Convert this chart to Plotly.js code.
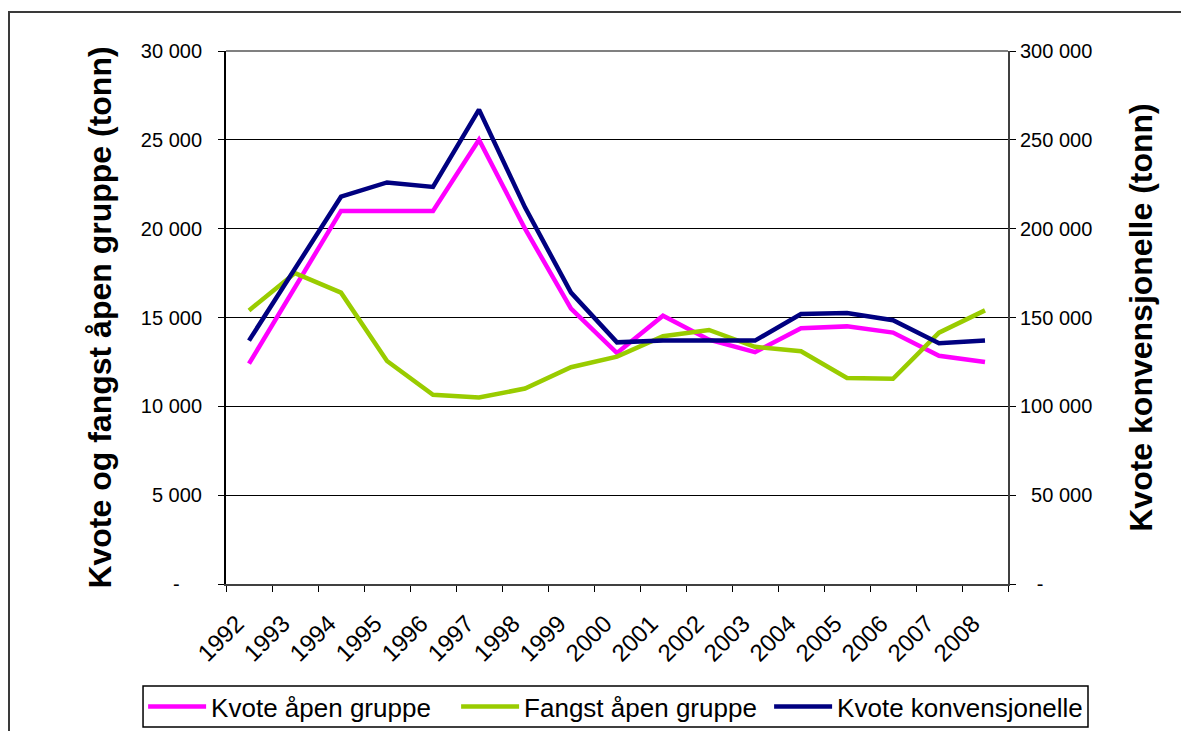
<!DOCTYPE html>
<html>
<head>
<meta charset="utf-8">
<script src="https://cdn.plot.ly/plotly-3.0.1.min.js"></script>
<style>
  html, body { margin: 0; padding: 0; overflow: hidden; background: #ffffff; }
  #frame { position: absolute; left: 8px; top: 11px; width: 1300px; height: 900px; border: 2px solid #3a3a3a; }
  #chart { position: absolute; left: 0; top: 0; width: 1181px; height: 731px; }
</style>
</head>
<body>
<div id="frame"></div>
<div id="chart"></div>
<script>
// Data
const years = ["1992","1993","1994","1995","1996","1997","1998","1999","2000","2001","2002","2003","2004","2005","2006","2007","2008"];
const kvoteApen = [12400, 16700, 21000, 21000, 21000, 25000, 20000, 15500, 13000, 15100, 13750, 13050, 14400, 14500, 14150, 12850, 12500];
const fangstApen = [15400, 17500, 16400, 12550, 10650, 10500, 11000, 12200, 12800, 13950, 14300, 13350, 13100, 11600, 11550, 14150, 15400];
const kvoteKonv = [137000, 177000, 218000, 226000, 223500, 267000, 212000, 164000, 136000, 137000, 137000, 137000, 152000, 152500, 148500, 135500, 137000];

const leftTickVals = [0, 5000, 10000, 15000, 20000, 25000, 30000];
const leftTickText = ["-\u2007\u2007", "5 000", "10 000", "15 000", "20 000", "25 000", "30 000"];
const rightTickVals = [0, 50000, 100000, 150000, 200000, 250000, 300000];
const rightTickText = ["\u2007 -", "\u200750 000", "100 000", "150 000", "200 000", "250 000", "300 000"];

const seriesNames = ["Kvote åpen gruppe", "Fangst åpen gruppe", "Kvote konvensjonelle"];
const seriesColors = ["#FF00FF", "#99CC00", "#000080"];

const font = "Liberation Sans, Arial, sans-serif";

const traces = [
  { x: years, y: kvoteApen, name: seriesNames[0], type: "scatter", mode: "lines",
    line: { color: seriesColors[0], width: 4.5 }, yaxis: "y" },
  { x: years, y: fangstApen, name: seriesNames[1], type: "scatter", mode: "lines",
    line: { color: seriesColors[1], width: 4.5 }, yaxis: "y" },
  { x: years, y: kvoteKonv, name: seriesNames[2], type: "scatter", mode: "lines",
    line: { color: seriesColors[2], width: 4.5 }, yaxis: "y2" }
];

const layout = {
  width: 1181, height: 731,
  margin: { l: 226, r: 173, t: 51, b: 147, autoexpand: false },
  paper_bgcolor: "rgba(0,0,0,0)",
  plot_bgcolor: "rgba(0,0,0,0)",
  font: { family: font, color: "#000000", size: 20 },
  showlegend: true,
  legend: {
    orientation: "h",
    x: -0.106, xanchor: "left",
    y: -0.1857, yanchor: "top",
    borderwidth: 0,
    font: { family: font, size: 26, color: "#000000" },
    bgcolor: "rgba(0,0,0,0)",
    itemwidth: 58,
    entrywidth: 240,
    tracegroupgap: 0
  },
  xaxis: {
    type: "category",
    range: [-0.5, 16.5],
    tickson: "boundaries",
    ticks: "outside", ticklen: 6, tickcolor: "#000000", tickwidth: 1,
    tickangle: -45,
    ticklabelstandoff: 14,
    ticklabelshift: -12,
    tickfont: { family: font, size: 24, color: "#000000" },
    showline: true, linecolor: "#404040", linewidth: 2,
    showgrid: false, zeroline: false, automargin: false
  },
  yaxis: {
    range: [0, 30000],
    tickvals: leftTickVals, ticktext: leftTickText,
    ticks: "outside", ticklen: 6, tickcolor: "#000000", tickwidth: 1,
    ticklabelstandoff: 12,
    tickfont: { family: font, size: 20, color: "#000000" },
    showline: true, linecolor: "#000000", linewidth: 2,
    showgrid: true, gridcolor: "#000000", gridwidth: 1,
    zeroline: false, automargin: false,
    title: { text: "Kvote og fangst åpen gruppe (tonn)", font: { family: font, size: 32, color: "#000000", weight: "bold" }, standoff: 20 }
  },
  yaxis2: {
    overlaying: "y", side: "right",
    range: [0, 300000],
    tickvals: rightTickVals, ticktext: rightTickText,
    ticks: "outside", ticklen: 6, tickcolor: "#000000", tickwidth: 1,
    tickfont: { family: font, size: 20, color: "#000000" },
    showline: true, linecolor: "#404040", linewidth: 2,
    showgrid: false, zeroline: false, automargin: false,
    title: { text: "Kvote konvensjonelle (tonn)", font: { family: font, size: 32, color: "#000000", weight: "bold" }, standoff: 38 }
  },
  shapes: [
    { type: "line", xref: "paper", yref: "paper", x0: 0, x1: 1, y0: 1, y1: 1,
      line: { color: "#808080", width: 2 }, layer: "above" },
    { type: "rect", xref: "paper", yref: "paper", x0: -0.1061, x1: 1.1023, y0: -0.2683, y1: -0.1914,
      line: { color: "#000000", width: 1.5 }, fillcolor: "rgba(0,0,0,0)", layer: "below" }
  ]
};

Plotly.newPlot("chart", traces, layout, { displayModeBar: false, staticPlot: true });
</script>
</body>
</html>
